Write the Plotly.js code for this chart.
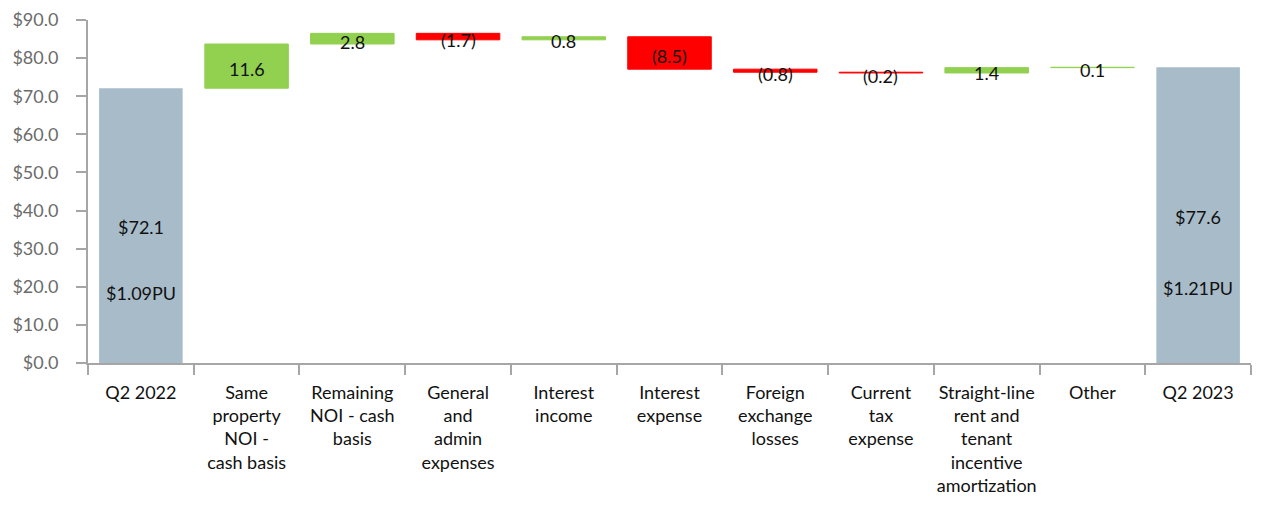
<!DOCTYPE html>
<html>
<head>
<meta charset="utf-8">
<script src="https://cdn.plot.ly/plotly-3.0.1.min.js"></script>
<style>html,body{margin:0;padding:0;background:#fff;}#chart{width:1270px;height:510px;}</style>
</head>
<body>
<div id="chart"></div>
<script>
const categories = [
  "Q2 2022",
  "Same<br>property<br>NOI -<br>cash basis",
  "Remaining<br>NOI - cash<br>basis",
  "General<br>and<br>admin<br>expenses",
  "Interest<br>income",
  "Interest<br>expense",
  "Foreign<br>exchange<br>losses",
  "Current<br>tax<br>expense",
  "Straight-line<br>rent and<br>tenant<br>incentive<br>amortization",
  "Other",
  "Q2 2023"
];
const measures = ["absolute","relative","relative","relative","relative","relative","relative","relative","relative","relative","total"];
const values = [72.1, 11.6, 2.8, -1.7, 0.8, -8.5, -0.8, -0.2, 1.4, 0.1, 0];
const totalLabels = ["$72.1", "$77.6"];
const perUnitLabels = ["$1.09PU", "$1.21PU"];

const fam = "Lato, 'Open Sans', sans-serif";
const textFont = {family: fam, size: 18, color: "#111"};
const annotations = [];
let running = 0;
const totalsIdx = [];
for (let i = 0; i < values.length; i++) {
  if (measures[i] === "absolute") {
    running = values[i];
    totalsIdx.push([i, running]);
  } else if (measures[i] === "total") {
    totalsIdx.push([i, running]);
  } else {
    const start = running;
    running = running + values[i];
    const mid = (start + running) / 2;
    const v = values[i];
    const txt = v < 0 ? "(" + Math.abs(v).toFixed(1) + ")" : v.toFixed(1);
    annotations.push({x: categories[i], y: mid, xref: "x", yref: "y", text: txt, showarrow: false, font: textFont, yshift: -3});
  }
}
totalsIdx.forEach(([i, tot], k) => {
  annotations.push({x: categories[i], y: tot * 0.495, xref: "x", yref: "y", text: totalLabels[k], showarrow: false, font: textFont});
  annotations.push({x: categories[i], y: tot * 0.255, xref: "x", yref: "y", text: perUnitLabels[k], showarrow: false, font: textFont});
});

const trace = {
  type: "waterfall",
  x: categories,
  y: values,
  measure: measures,
  width: 0.79,
  textposition: "none",
  hoverinfo: "skip",
  connector: {visible: false},
  increasing: {marker: {color: "#92D050", line: {color: "#92D050", width: 1}}},
  decreasing: {marker: {color: "#FF0000", line: {color: "#FF0000", width: 1}}},
  totals: {marker: {color: "#A7BBC8", line: {color: "#A7BBC8", width: 0}}}
};

const layout = {
  width: 1270, height: 510,
  margin: {l: 88, r: 19, t: 20, b: 147},
  paper_bgcolor: "#fff", plot_bgcolor: "#fff",
  showlegend: false,
  font: {family: fam},
  xaxis: {
    type: "category",
    tickangle: 0,
    showline: true, linecolor: "#A6A6A6", linewidth: 2,
    ticks: "outside", ticklen: 10, tickcolor: "#A6A6A6", tickwidth: 2,
    tickson: "boundaries",
    ticklabelstandoff: 12,
    showgrid: false, zeroline: false,
    tickfont: {family: fam, size: 18, color: "#111"}
  },
  yaxis: {
    range: [0, 90], dtick: 10, tick0: 0,
    tickformat: "$.1f",
    showline: true, linecolor: "#A6A6A6", linewidth: 2,
    ticks: "outside", ticklen: 10, tickcolor: "#A6A6A6", tickwidth: 2,
    ticklabelstandoff: 14,
    showgrid: false, zeroline: false,
    tickfont: {family: fam, size: 18, color: "#6B6B6B"}
  },
  annotations: annotations
};

Plotly.newPlot("chart", [trace], layout, {displayModeBar: false, staticPlot: true});
</script>
</body>
</html>
